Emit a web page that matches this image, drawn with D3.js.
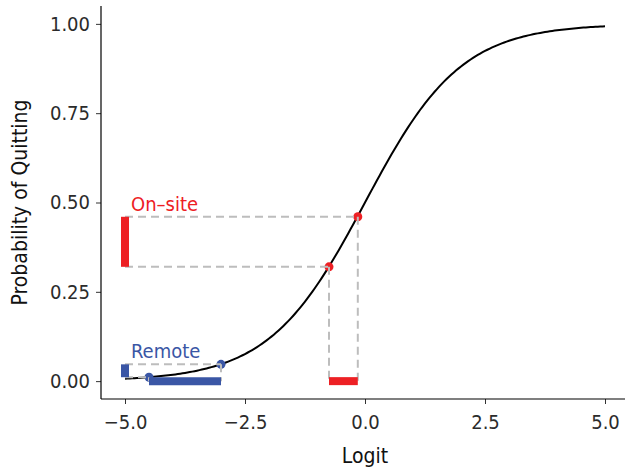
<!DOCTYPE html>
<html>
<head>
<meta charset="utf-8">
<script src="https://cdn.jsdelivr.net/npm/d3@7"></script>
<style>
  body { margin: 0; background: #fff; }
  svg text { font-family: "Liberation Sans Narrow", "DejaVu Sans Condensed", sans-serif; }
</style>
</head>
<body>
<svg width="625" height="470"></svg>
<script>
// data
var xTicks = [-5.0, -2.5, 0.0, 2.5, 5.0];
var yTicks = [0.00, 0.25, 0.50, 0.75, 1.00];

var groups = ['On\u2013site', 'Remote'];
var onsiteLogit = [-0.75, -0.15];
var onsiteProb = [0.32, 0.46];
var remoteLogit = [-4.5, -3.0];
var remoteProb = [0.011, 0.047];

var curveLogit = d3.range(-5, 5.001, 0.05);

var red = '#ed2024',
    blue = '#3a56a5',
    dashGrey = '#bdbdbd';

var svg = d3.select('svg');

var x = d3.scaleLinear()
    .domain([-5.5, 5.5])
    .range([101, 629]);

var y = d3.scaleLinear()
    .domain([-0.05, 1.05])
    .range([399, 6]);

function logistic(v) {
    return 1 / (1 + Math.exp(-v));
}

// axes
var xAxis = svg.append('g')
    .attr('transform', 'translate(0,399)')
    .call(d3.axisBottom(x).tickValues(xTicks).tickFormat(function (d) {
        return d3.format('.1f')(d).replace('-', '\u2212');
    }).tickSizeOuter(0).tickSize(5).tickPadding(8));

var yAxis = svg.append('g')
    .attr('transform', 'translate(101,0)')
    .call(d3.axisLeft(y).tickValues(yTicks).tickFormat(d3.format('.2f'))
        .tickSizeOuter(0).tickSize(5).tickPadding(6));

svg.selectAll('.domain').remove();
svg.selectAll('.tick line').attr('stroke', '#333');
svg.selectAll('.tick text').attr('font-size', 20).attr('fill', '#2b2b2b');
xAxis.selectAll('.tick text').attr('dy', '0.85em');

// axis lines
svg.append('line')
    .attr('x1', x.range()[0]).attr('x2', x.range()[1])
    .attr('y1', y.range()[0]).attr('y2', y.range()[0])
    .attr('stroke', '#000').attr('stroke-width', 1.2);
svg.append('line')
    .attr('x1', x.range()[0]).attr('x2', x.range()[0])
    .attr('y1', y.range()[0]).attr('y2', y.range()[1])
    .attr('stroke', '#000').attr('stroke-width', 1.2);

svg.append('text')
    .attr('x', x(0))
    .attr('y', 463)
    .attr('text-anchor', 'middle')
    .attr('font-size', 21)
    .attr('fill', '#111')
    .text('Logit');

svg.append('text')
    .attr('transform', 'translate(27,' + y(0.5) + ') rotate(-90)')
    .attr('text-anchor', 'middle')
    .attr('font-size', 21)
    .attr('fill', '#111')
    .text('Probability of Quitting');

// logistic curve
var line = d3.line()
    .x(function (d) { return x(d); })
    .y(function (d) { return y(logistic(d)); });

svg.append('path')
    .datum(curveLogit)
    .attr('fill', 'none')
    .attr('stroke', '#000')
    .attr('stroke-width', 2)
    .attr('d', line);

function drawGroup(logits, probs, color, label) {
    var g = svg.append('g');

    // points
    g.selectAll('circle')
        .data(logits)
        .enter()
        .append('circle')
        .attr('cx', function (d) { return x(d); })
        .attr('cy', function (d, i) { return y(probs[i]); })
        .attr('r', 4.5)
        .attr('fill', color);

    // dashed guides
    logits.forEach(function (d, i) {
        g.append('line')
            .attr('x1', x(-5)).attr('x2', x(d))
            .attr('y1', y(probs[i])).attr('y2', y(probs[i]))
            .attr('stroke', dashGrey).attr('stroke-width', 2)
            .attr('stroke-dasharray', '8,5');
        g.append('line')
            .attr('x1', x(d)).attr('x2', x(d))
            .attr('y1', y(probs[i])).attr('y2', y(0))
            .attr('stroke', dashGrey).attr('stroke-width', 2)
            .attr('stroke-dasharray', '8,5');
    });

    // range bars
    g.append('line')
        .attr('x1', x(d3.min(logits))).attr('x2', x(d3.max(logits)))
        .attr('y1', y(0)).attr('y2', y(0))
        .attr('stroke', color).attr('stroke-width', 8);
    g.append('line')
        .attr('x1', x(-5)).attr('x2', x(-5))
        .attr('y1', y(d3.min(probs))).attr('y2', y(d3.max(probs)))
        .attr('stroke', color).attr('stroke-width', 8);

    g.append('text')
        .attr('x', x(-5) + 6)
        .attr('y', y(d3.max(probs)) - 6)
        .attr('font-size', 20)
        .attr('fill', color)
        .text(label);
}

drawGroup(onsiteLogit, onsiteProb, red, groups[0]);
drawGroup(remoteLogit, remoteProb, blue, groups[1]);
</script>
</body>
</html>
